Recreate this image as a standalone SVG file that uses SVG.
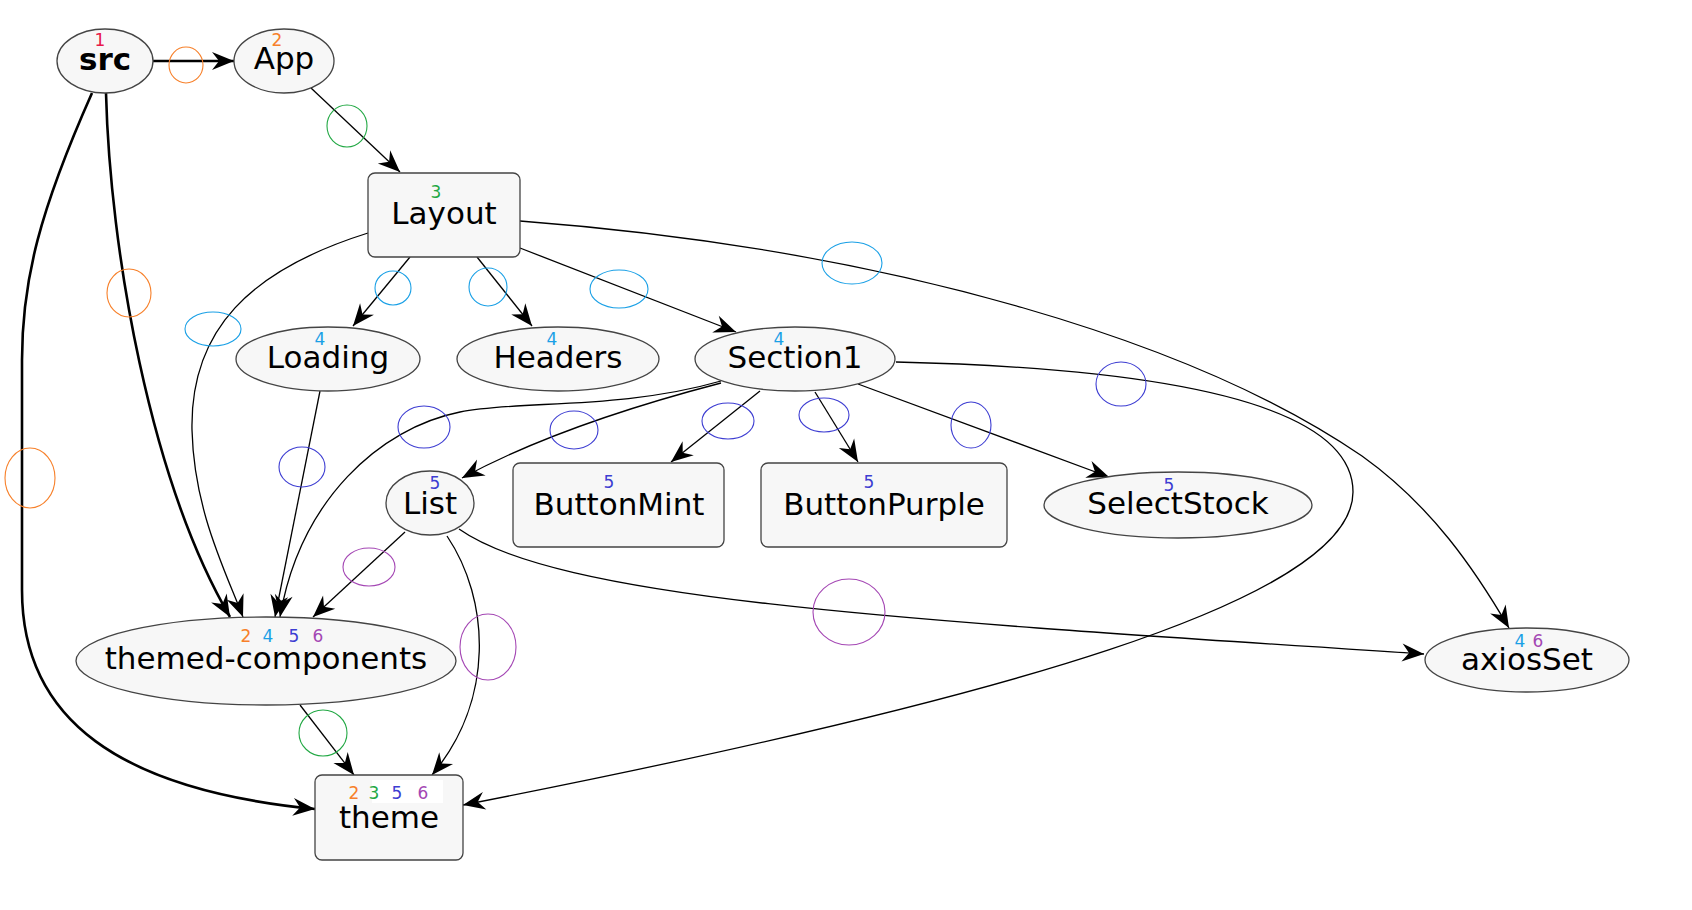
<svg xmlns="http://www.w3.org/2000/svg" width="1692" height="910" viewBox="0 0 1692 910">
<style>
.n{fill:#f7f7f7;stroke:#444;stroke-width:1.3}
.t{font-family:"DejaVu Sans",sans-serif;font-size:31px;fill:#000;text-anchor:middle}
.k{font-family:"DejaVu Sans",sans-serif;font-size:17px;text-anchor:middle}
.e{fill:none;stroke:#000;stroke-width:1.3;marker-end:url(#ah)}
.b{stroke-width:2.6}
.l{fill:none;stroke-width:1.1}
.c1{fill:#e8194b}.c2{fill:#f7802a}.c3{fill:#22a844}.c4{fill:#1aa0e6}.c5{fill:#3d3dd2}.c6{fill:#a447b4}
.s2{stroke:#f7802a}.s3{stroke:#22a844}.s4{stroke:#1aa0e6}.s5{stroke:#3d3dd2}.s6{stroke:#a447b4}
</style>
<defs>
<marker id="ah" viewBox="-24 -11 26 22" refX="0" refY="0" markerWidth="26" markerHeight="22" markerUnits="userSpaceOnUse" orient="auto">
<path d="M0,0 L-22,-9 L-15,0 L-22,9 Z" fill="#000"/>
</marker>
</defs>
<rect width="1692" height="910" fill="#fff"/>
<g id="connectors">
<path class="e b" d="M153,61 L234,61"/>
<path class="e" d="M311,88 L400,172"/>
<path class="e b" d="M106,93 C110,250 150,480 230,617"/>
<path class="e b" d="M92,93 C40,210 22,280 22,360 L22,590 C22,720 120,790 315,809"/>
<path class="e" d="M368,233 C250,270 190,330 192,430 C194,510 225,570 243,617"/>
<path class="e" d="M410,257 L353,326"/>
<path class="e" d="M477,257 L532,326"/>
<path class="e" d="M520,248 L736,332"/>
<path class="e" d="M520,221 C900,250 1200,345 1362,456 C1432,506 1475,570 1509,628"/>
<path class="e" d="M320,391 L275,617"/>
<path class="e" d="M721,381 C620,410 520,400 460,412 C380,428 300,500 280,617"/>
<path class="e" d="M721,383 Q560,425 462,478"/>
<path class="e" d="M760,391 L671,462"/>
<path class="e" d="M815,392 L858,462"/>
<path class="e" d="M858,384 L1109,477"/>
<path class="e" d="M896,362 C1150,368 1353,400 1353,492 C1353,600 1000,700 463,805"/>
<path class="e" d="M405,532 L313,617"/>
<path class="e" d="M447,536 C490,600 495,700 432,775"/>
<path class="e" d="M459,529 C560,600 900,620 1424,654"/>
<path class="e" d="M300,705 L354,775"/>
<g id="edge-labels">
<ellipse class="l s2" cx="186" cy="65" rx="17" ry="18"/>
<ellipse class="l s3" cx="347" cy="126" rx="20" ry="21"/>
<ellipse class="l s2" cx="129" cy="293" rx="22" ry="24"/>
<ellipse class="l s2" cx="30" cy="478" rx="25" ry="30"/>
<ellipse class="l s4" cx="213" cy="329" rx="28" ry="17"/>
<ellipse class="l s4" cx="393" cy="288" rx="18" ry="17"/>
<ellipse class="l s4" cx="488" cy="287" rx="19" ry="19"/>
<ellipse class="l s4" cx="619" cy="289" rx="29" ry="19"/>
<ellipse class="l s4" cx="852" cy="263" rx="30" ry="21"/>
<ellipse class="l s5" cx="302" cy="467" rx="23" ry="20"/>
<ellipse class="l s5" cx="424" cy="427" rx="26" ry="21"/>
<ellipse class="l s5" cx="574" cy="430" rx="24" ry="19"/>
<ellipse class="l s5" cx="728" cy="421" rx="26" ry="18"/>
<ellipse class="l s5" cx="824" cy="415" rx="25" ry="17"/>
<ellipse class="l s5" cx="971" cy="425" rx="20" ry="23"/>
<ellipse class="l s5" cx="1121" cy="384" rx="25" ry="22"/>
<ellipse class="l s6" cx="369" cy="567" rx="26" ry="19"/>
<ellipse class="l s6" cx="488" cy="647" rx="28" ry="33"/>
<ellipse class="l s6" cx="849" cy="612" rx="36" ry="33"/>
<ellipse class="l s3" cx="323" cy="733" rx="24" ry="23"/>
</g>
</g>
<g id="src"><ellipse class="n" cx="105" cy="61" rx="48" ry="32"/><text class="k c1" x="100" y="46">1</text><text class="t" x="105" y="70" font-weight="bold" font-size="34">src</text></g>
<g id="App"><ellipse class="n" cx="284" cy="61" rx="50" ry="32"/><text class="k c2" x="277" y="46">2</text><text class="t" x="284" y="69">App</text></g>
<g id="Layout"><rect class="n" x="368" y="173" width="152" height="84" rx="7"/><text class="k c3" x="436" y="198">3</text><text class="t" x="444" y="224">Layout</text></g>
<g id="Loading"><ellipse class="n" cx="328" cy="359" rx="92" ry="32"/><text class="k c4" x="320" y="345">4</text><text class="t" x="328" y="368">Loading</text></g>
<g id="Headers"><ellipse class="n" cx="558" cy="359" rx="101" ry="32"/><text class="k c4" x="552" y="345">4</text><text class="t" x="558" y="368">Headers</text></g>
<g id="Section1"><ellipse class="n" cx="795" cy="359" rx="100" ry="32"/><text class="k c4" x="779" y="345">4</text><text class="t" x="795" y="368">Section1</text></g>
<g id="List"><ellipse class="n" cx="430" cy="503" rx="44" ry="32"/><text class="k c5" x="435" y="489">5</text><text class="t" x="430" y="514">List</text></g>
<g id="ButtonMint"><rect class="n" x="513" y="463" width="211" height="84" rx="7"/><text class="k c5" x="609" y="488">5</text><text class="t" x="619" y="515">ButtonMint</text></g>
<g id="ButtonPurple"><rect class="n" x="761" y="463" width="246" height="84" rx="7"/><text class="k c5" x="869" y="488">5</text><text class="t" x="884" y="515">ButtonPurple</text></g>
<g id="SelectStock"><ellipse class="n" cx="1178" cy="505" rx="134" ry="33"/><text class="k c5" x="1169" y="491">5</text><text class="t" x="1178" y="514">SelectStock</text></g>
<g id="themed-components"><ellipse class="n" cx="266" cy="661" rx="190" ry="44"/><text class="k c2" x="246" y="642">2</text><text class="k c4" x="268" y="642">4</text><text class="k c5" x="294" y="642">5</text><text class="k c6" x="318" y="642">6</text><text class="t" x="266" y="669">themed-components</text></g>
<g id="axiosSet"><ellipse class="n" cx="1527" cy="660" rx="102" ry="32"/><text class="k c4" x="1520" y="647">4</text><text class="k c6" x="1538" y="647">6</text><text class="t" x="1527" y="670">axiosSet</text></g>
<g id="theme"><rect class="n" x="315" y="775" width="148" height="85" rx="7"/><rect x="372" y="780" width="71" height="23" fill="#fff"/><text class="k c2" x="354" y="799">2</text><text class="k c3" x="374" y="799">3</text><text class="k c5" x="397" y="799">5</text><text class="k c6" x="423" y="799">6</text><text class="t" x="389" y="828">theme</text></g>
</svg>
